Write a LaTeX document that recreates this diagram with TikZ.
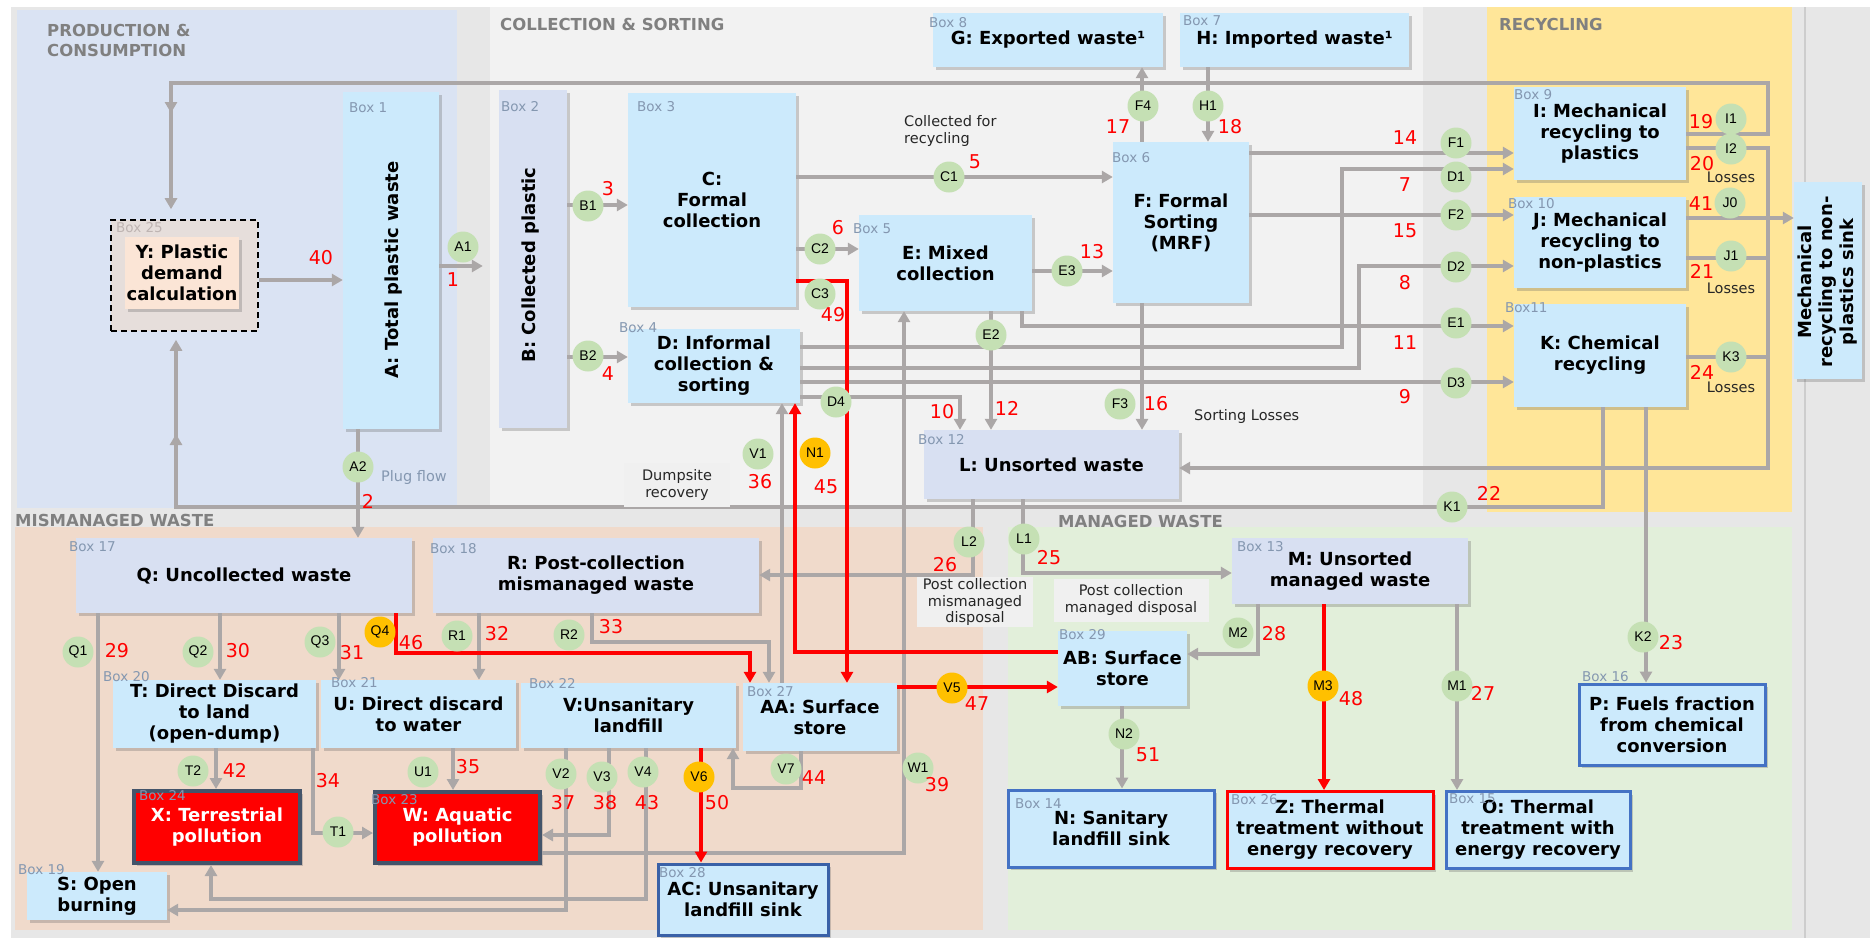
\documentclass[tikz,border=0pt]{standalone}
\usepackage{fontspec}
\setmainfont{DejaVu Sans}
\newfontfamily\circfam{Liberation Sans}
\usetikzlibrary{arrows.meta,shadows}
\definecolor{bggray}{RGB}{231,231,231}
\definecolor{prodc}{RGB}{218,227,243}
\definecolor{collc}{RGB}{242,242,242}
\definecolor{recyc}{RGB}{255,230,153}
\definecolor{misc}{RGB}{240,218,203}
\definecolor{manc}{RGB}{226,239,218}
\definecolor{boxblue}{RGB}{204,234,252}
\definecolor{lav}{RGB}{216,224,242}
\definecolor{ygray}{RGB}{230,222,219}
\definecolor{ypeach}{RGB}{251,229,214}
\definecolor{lgray}{RGB}{171,167,167}
\definecolor{sectgray}{RGB}{128,128,128}
\definecolor{lblc}{RGB}{132,151,176}
\definecolor{sinkblue}{RGB}{68,114,196}
\definecolor{slate}{RGB}{68,84,106}
\definecolor{cgreen}{RGB}{197,224,180}
\definecolor{corange}{RGB}{255,192,0}
\definecolor{notebg}{RGB}{240,240,240}
\definecolor{sepc}{RGB}{205,205,205}
\definecolor{lbl25}{RGB}{190,180,178}
\newcommand\dgboxf{\fontsize{18}{21}\selectfont\bfseries}
\newcommand\dgnumf{\fontsize{19}{19}\selectfont}
\newcommand\dglblf{\fontsize{13.5}{14}\selectfont}
\newcommand\dgnotef{\fontsize{14.5}{17.5}\selectfont}
\newcommand\dgsectf{\fontsize{16.5}{20}\selectfont\bfseries}
\newcommand\dgcircf{\circfam\fontsize{14}{14}\selectfont}
\begin{document}
\begin{tikzpicture}[x=1pt,y=-1pt,
 box/.style={fill=boxblue, inner sep=1pt, align=center, font=\dgboxf,
   drop shadow={shadow xshift=3pt, shadow yshift=-3pt, opacity=0.3, fill=black!60}},
 lbox/.style={box, fill=lav},
 sinkbox/.style={box, draw=sinkblue, line width=3pt},
 zbox/.style={box, draw=red, line width=3pt},
 redbox/.style={box, fill=red, draw=slate, line width=4pt, text=white},
 flow/.style={draw=lgray, line width=3.3pt, -{Triangle[length=11pt,width=12pt]}},
 rflow/.style={draw=red, line width=3.6pt, -{Triangle[length=11pt,width=12pt]}},
 gline/.style={draw=lgray, line width=3.3pt},
 gc/.style={circle, fill=cgreen, minimum size=31pt, inner sep=0pt, font=\dgcircf},
 oc/.style={gc, fill=corange},
 num/.style={text=red, font=\dgnumf, inner sep=0pt},
 blbl/.style={text=lblc, font=\dglblf, inner sep=0pt, anchor=west},
 notetxt/.style={font=\dgnotef, align=center, inner sep=1pt, text=black!85},
 sect/.style={font=\dgsectf, text=sectgray, align=left, inner sep=0pt, anchor=west},
]
\useasboundingbox (0,0) rectangle (1870,938);
% backgrounds
\fill[white] (0,0) rectangle (1870,938);
\fill[bggray] (11,7) rectangle (1870,938);
\draw[sepc, line width=1.5pt] (1805,7) -- (1805,938);
\fill[prodc] (17,10) rectangle (457,508);
\fill[collc] (490,7) rectangle (1423,508);
\fill[recyc] (1487,7) rectangle (1792,512);
\fill[misc] (15,527) rectangle (983,930);
\fill[manc] (1008,527) rectangle (1792,930);
% section labels
\node[sect] (sp1) at (47,30) {PRODUCTION \&};
\node[sect] (sp2) at (47,50) {CONSUMPTION};
\node[sect] (sc) at (500,24) {COLLECTION \& SORTING};
\node[sect] (sr) at (1499,24) {RECYCLING};
\node[sect] (sm) at (15,520) {MISMANAGED WASTE};
\node[sect] (sg) at (1058,521) {MANAGED WASTE};
% boxes
\node[draw=black, dashed, dash pattern=on 6pt off 4pt, line width=1.6pt, fill=ygray, minimum width=147pt, minimum height=111pt] (Yd) at (184.5,275.5) {};
\node[box, fill=ypeach, minimum width=114pt, minimum height=72pt] (Y) at (182,273) {Y: Plastic\\demand\\calculation};
\node[box, minimum width=96pt, minimum height=337pt] (A) at (391,260.5) {};
\node[font=\dgboxf, rotate=90] (Atxt) at (394,270) {A: Total plastic waste};
\node[lbox, minimum width=68pt, minimum height=338pt] (B) at (533,259) {};
\node[font=\dgboxf, rotate=90] (Btxt) at (531,265) {B: Collected plastic};
\node[box, minimum width=168pt, minimum height=214pt] (C) at (712,200) {C:\\Formal\\collection};
\node[box, minimum width=172pt, minimum height=74pt] (D) at (714,366) {D: Informal\\collection \&\\sorting};
\node[box, minimum width=173pt, minimum height=96pt] (E) at (945.5,263) {E: Mixed\\collection};
\node[box, minimum width=136pt, minimum height=161pt] (F) at (1181,222.5) {F: Formal\\Sorting\\(MRF)};
\node[box, minimum width=230pt, minimum height=54pt] (G) at (1048,40) {G: Exported waste¹};
\node[box, minimum width=229pt, minimum height=54pt] (H) at (1294.5,40) {H: Imported waste¹};
\node[box, minimum width=172pt, minimum height=93pt] (I) at (1600,133.5) {I: Mechanical\\recycling to\\plastics};
\node[box, minimum width=172pt, minimum height=91pt] (J) at (1600,242.5) {J: Mechanical\\recycling to\\non-plastics};
\node[box, minimum width=172pt, minimum height=103pt] (K) at (1600,355.5) {K: Chemical\\recycling};
\node[box, minimum width=68pt, minimum height=197pt] (Sink) at (1828,280.5) {};
\node[font=\dgboxf, rotate=90, align=center] (Sinktxt) at (1828,282) {Mechanical\\recycling to non-\\plastics sink};
\node[lbox, minimum width=255pt, minimum height=69pt] (L) at (1051.5,464.5) {L: Unsorted waste};
\node[lbox, minimum width=236pt, minimum height=66pt] (M) at (1350,571) {M: Unsorted\\managed waste};
\node[lbox, minimum width=336pt, minimum height=75pt] (Q) at (244,575.5) {Q: Uncollected waste};
\node[lbox, minimum width=326pt, minimum height=75pt] (R) at (596,575.5) {R: Post-collection\\mismanaged waste};
\node[box, minimum width=203pt, minimum height=68pt] (T) at (214.5,714) {T: Direct Discard\\to land\\(open-dump)};
\node[box, minimum width=195pt, minimum height=68pt] (U) at (418.5,714) {U: Direct discard\\to water};
\node[box, minimum width=215pt, minimum height=65pt] (V) at (628.5,715.5) {V:Unsanitary\\landfill};
\node[box, minimum width=154pt, minimum height=68pt] (AA) at (820,717) {AA: Surface\\store};
\node[box, minimum width=129pt, minimum height=75pt] (AB) at (1122.5,668.5) {AB: Surface\\store};
\node[redbox, minimum width=166pt, minimum height=72pt] (X) at (217,827) {X: Terrestrial\\pollution};
\node[redbox, minimum width=165pt, minimum height=71pt] (W) at (457.5,827.5) {W: Aquatic\\pollution};
\node[box, minimum width=140pt, minimum height=48pt] (S) at (97,896) {S: Open\\burning};
\node[sinkbox, draw=sinkblue!85!black, minimum width=170pt, minimum height=71pt] (AC) at (743,899.5) {AC: Unsanitary\\landfill sink};
\node[sinkbox, minimum width=206pt, minimum height=77pt] (N) at (1111,828.5) {N: Sanitary\\landfill sink};
\node[zbox, minimum width=206pt, minimum height=77pt] (Z) at (1330,830) {Z: Thermal\\treatment without\\energy recovery};
\node[sinkbox, minimum width=184pt, minimum height=77pt] (O) at (1538,830) {O: Thermal\\treatment with\\energy recovery};
\node[sinkbox, minimum width=186pt, minimum height=81pt] (P) at (1672,724.5) {P: Fuels fraction\\from chemical\\conversion};
% gray connectors
\draw[flow] (Yd.east |- 0,280) -- (A.west |- 0,280);
\draw[flow, shorten >=16pt] (A.east |- 0,266) -- (B.west |- 0,266);
\draw[flow] (A.south -| 358,0) -- (Q.north -| 358,0);
\draw[flow] (B.east |- 0,205) -- (C.west |- 0,205);
\draw[flow] (B.east |- 0,357) -- (D.west |- 0,357);
\draw[flow] (C.east |- 0,177) -- (F.west |- 0,177);
\draw[flow] (C.east |- 0,249) -- (E.west |- 0,249);
\draw[flow] (E.east |- 0,271) -- (F.west |- 0,271);
\draw[flow] (F.north -| 1142,0) -- (G.south -| 1142,0);
\draw[flow] (H.south -| 1208,0) -- (F.north -| 1208,0);
\draw[flow] (F.east |- 0,153) -- (I.west |- 0,153);
\draw[flow] (F.east |- 0,215) -- (J.west |- 0,215);
\draw[flow] (D.east |- 0,347) -| (1342,169) -- (I.west |- 0,169);
\draw[flow] (D.east |- 0,368) -| (1359,266) -- (J.west |- 0,266);
\draw[flow] (D.east |- 0,382) -- (K.west |- 0,382);
\draw[flow] (D.east |- 0,397) -| (L.north -| 960,0);
\draw[flow] (E.south -| 991,0) -- (L.north -| 991,0);
\draw[flow] (E.south -| 1022,0) |- (K.west |- 0,326);
\draw[flow] (F.south -| 1142,0) -- (L.north -| 1142,0);
\draw[flow, shorten >=10pt] (I.east |- 0,134) -| (1768,83) -| (Yd.north -| 171,0);
\draw[flow] (171,83) -- (171,113);
\draw[flow] (I.east |- 0,148) -| (1768,468) -- (L.east |- 0,468);
\draw[gline] (J.east |- 0,258) -- (1768,258);
\draw[gline] (K.east |- 0,357) -- (1768,357);
\draw[flow] (J.east |- 0,218) -- (Sink.west |- 0,218);
\draw[flow, shorten >=8pt] (K.south -| 1603,0) |- (176,507) -- (Yd.south -| 176,0);
\draw[flow] (176,507) -- (176,434);
\draw[flow] (K.south -| 1646,0) -- (P.north -| 1646,0);
\draw[flow] (L.south -| 973,0) |- (R.east |- 0,575);
\draw[flow] (L.south -| 1023,0) |- (M.west |- 0,573);
\draw[flow] (M.south -| 1258,0) |- (AB.east |- 0,654);
\draw[flow] (M.south -| 1457,0) -- (O.north -| 1457,0);
\draw[flow] (AB.south -| 1122,0) -- (N.north -| 1122,0);
\draw[flow] (AA.north -| 782,0) -- (D.south -| 782,0);
\draw[flow] (W.east |- 0,853) -| (E.south -| 904,0);
\draw[flow] (Q.south -| 98,0) -- (S.north -| 98,0);
\draw[flow] (Q.south -| 220,0) -- (T.north -| 220,0);
\draw[flow] (Q.south -| 339,0) -- (U.north -| 339,0);
\draw[flow] (R.south -| 479,0) -- (U.north -| 479,0);
\draw[flow] (R.south -| 592,0) |- (769,642) -- (AA.north -| 769,0);
\draw[flow] (T.south -| 216,0) -- (X.north -| 216,0);
\draw[flow] (T.south -| 313,0) |- (W.west |- 0,833);
\draw[flow] (U.south -| 453,0) -- (W.north -| 453,0);
\draw[flow] (V.south -| 566,0) |- (S.east |- 0,910);
\draw[flow] (V.south -| 609,0) |- (W.east |- 0,835);
\draw[flow] (V.south -| 646,0) |- (211,899) -- (X.south -| 211,0);
\draw[flow] (AA.south -| 801,0) |- (733,788) -- (V.south -| 733,0);
% red connectors
\draw[rflow] (Q.south -| 396,0) |- (750,653) -- (AA.north -| 750,0);
\draw[rflow] (AA.east |- 0,687) -- (AB.west |- 0,687);
\draw[rflow] (M.south -| 1324,0) -- (Z.north -| 1324,0);
\draw[rflow] (C.east |- 0,281) -| (AA.north -| 847,0);
\draw[rflow] (V.south -| 701,0) -- (AC.north -| 701,0);
\draw[rflow] (AB.west |- 0,652) -| (D.south -| 795,0);
% flow circles
\foreach \n/\x/\y in {A1/463/247, A2/358/467, B1/588/206, B2/588/356, C1/949/177, C2/820/249, C3/820/294,
  D1/1456/177, D2/1456/267, D3/1456/383, D4/836/402, E1/1456/323, E2/991/335, E3/1067/271,
  F1/1456/143, F2/1456/215, F3/1120/404, F4/1143/106, H1/1208/106, I1/1731/119, I2/1731/149,
  J0/1730/203, J1/1731/256, K1/1452/507, K2/1643/637, K3/1731/357, L1/1024/539, L2/969/542,
  M1/1457/686, M2/1238/633, N2/1124/734, Q1/78/652, Q2/198/652, Q3/320/642, R1/457/636, R2/569/635,
  T1/338/832, T2/193/771, U1/423/772, V1/758/454, V2/561/774, V3/602/777, V4/643/772, V7/786/769, W1/918/768}
  \node[gc] (c\n) at (\x,\y) {\n};
\foreach \n/\x/\y in {M3/1323/686, N1/815/453, Q4/380/632, V5/952/688, V6/699/777}
  \node[oc] (c\n) at (\x,\y) {\n};
% flow numbers
\foreach \n/\x/\y in {1/453/280, 2/368/501, 3/608/189, 4/608/374, 5/975/162, 6/838/228, 7/1405/185,
  8/1405/283, 9/1405/397, 10/942/412, 11/1405/343, 12/1007/408, 13/1092/252, 14/1405/138,
  15/1405/231, 16/1156/404, 17/1118/127, 18/1230/127, 19/1701/122, 20/1702/164, 21/1702/271,
  22/1489/493, 23/1671/643, 24/1702/372, 25/1049/558, 26/945/565, 27/1483/693, 28/1274/634,
  29/117/651, 30/238/651, 31/352/653, 32/497/634, 33/611/627, 34/328/781, 35/468/767,
  36/760/482, 37/563/803, 38/605/803, 39/937/785, 40/321/258, 41/1701/204, 42/235/770,
  43/647/803, 44/814/778, 45/826/487, 46/411/643, 47/977/704, 48/1351/699, 49/833/315,
  50/717/803, 51/1148/755}
  \node[num] (n\n) at (\x,\y) {\n};
% notes
\node[notetxt, align=left, anchor=north west] (ncr) at (903,114) {Collected for\\recycling};
\node[notetxt, anchor=west] (nsl) at (1193,416) {Sorting Losses};
\node[notetxt] (nl1) at (1731,177) {Losses};
\node[notetxt] (nl2) at (1731,288) {Losses};
\node[notetxt] (nl3) at (1731,387) {Losses};
\node[notetxt, text=lblc, anchor=west] (npf) at (380,477) {Plug flow};
\node[notetxt, fill=notebg, minimum width=106pt, minimum height=44pt] (ndr) at (677,485) {Dumpsite\\recovery};
\node[notetxt, fill=notebg, minimum width=116pt, minimum height=46pt, font=\fontsize{14.5}{16.5}\selectfont] (npm) at (975,602) {Post collection\\mismanaged\\disposal};
\node[notetxt, fill=notebg, minimum width=155pt, minimum height=43pt] (npg) at (1131,600) {Post collection\\managed disposal};
% box labels
\foreach \n/\t/\x/\y in {b1/Box 1/349/108, b2/Box 2/501/107, b3/Box 3/637/107, b4/Box 4/619/328,
  b5/Box 5/853/229, b6/Box 6/1112/158, b7/Box 7/1183/21, b8/Box 8/929/23, b9/Box 9/1514/95,
  b10/Box 10/1508/204, b11/Box11/1505/308, b12/Box 12/918/440, b13/Box 13/1237/547,
  b14/Box 14/1015/804, b15/Box 15/1449/799, b16/Box 16/1582/677, b17/Box 17/69/547,
  b18/Box 18/430/549, b19/Box 19/18/870, b20/Box 20/103/677, b21/Box 21/331/683,
  b22/Box 22/529/684, b23/Box 23/371/800, b24/Box 24/139/796, b26/Box 26/1231/800,
  b27/Box 27/747/692, b28/Box 28/659/873, b29/Box 29/1059/635}
  \node[blbl] (\n) at (\x,\y) {\t};
\node[blbl, text=lbl25] (b25) at (116,228) {Box 25};
\end{tikzpicture}
\end{document}
